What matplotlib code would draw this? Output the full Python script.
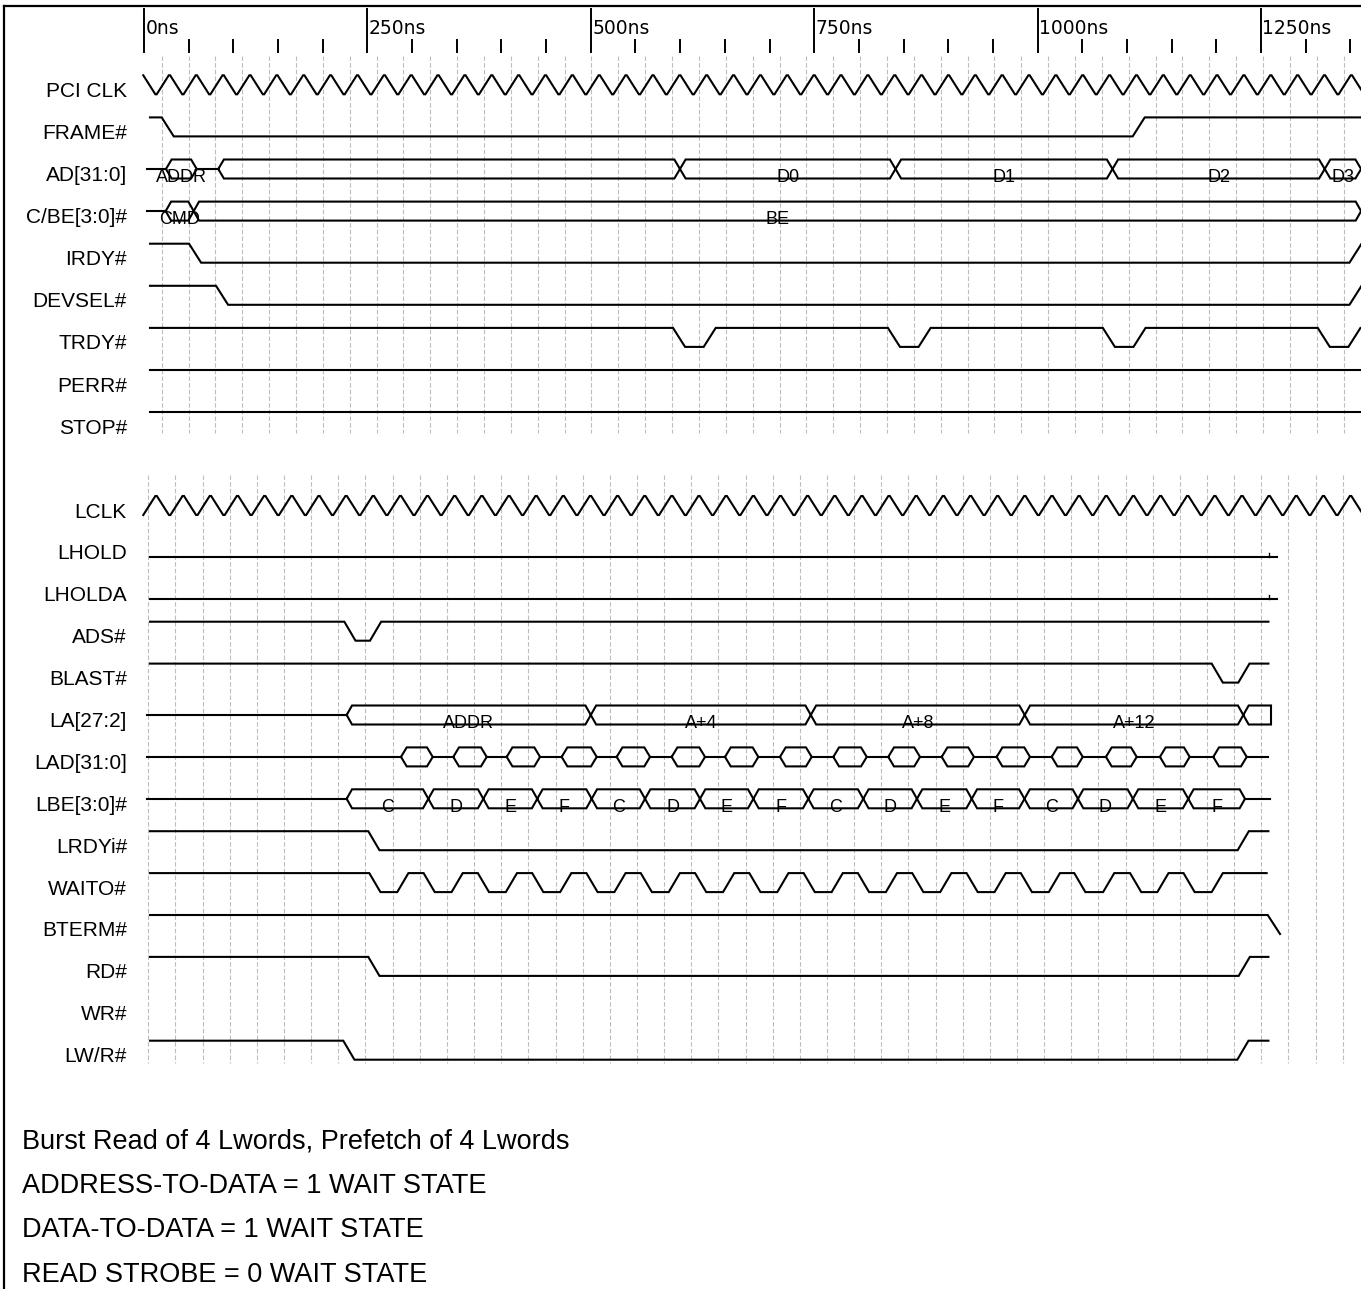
"""
PCI -> Local bus burst read timing diagram
"""
import matplotlib.pyplot as plt

plt.rcParams['font.family'] = ['Liberation Sans', 'DejaVu Sans']

# signal names
pci_names = ['PCI CLK', 'FRAME#', 'AD[31:0]', 'C/BE[3:0]#', 'IRDY#',
             'DEVSEL#', 'TRDY#', 'PERR#', 'STOP#']
local_names = ['LCLK', 'LHOLD', 'LHOLDA', 'ADS#', 'BLAST#', 'LA[27:2]',
               'LAD[31:0]', 'LBE[3:0]#', 'LRDYi#', 'WAITO#', 'BTERM#',
               'RD#', 'WR#', 'LW/R#']

# time axis (ns)
major_ticks = [0, 250, 500, 750, 1000, 1250]
minor_ticks = [50, 100, 150, 200, 300, 350, 400, 450, 550, 600, 650, 700,
               800, 850, 900, 950, 1050, 1100, 1150, 1200, 1300, 1350]

# clocks
pci_clk_period = 30.06
pci_clk_first = -0.8      # first falling edge starts here (from high)
lclk_period = 30.38
lclk_first = -0.8         # first rising edge starts here (from low)

# PCI side, transition start times (ns); every edge toggles the level
frame_edges = [19.8, 1106.4]
irdy_edges = [50.4, 1349.0]
devsel_edges = [80.6, 1349.0]
trdy_edges = [592.0, 626.3, 832.5, 866.8, 1073.0, 1107.3, 1313.5, 1347.8]

# PCI buses: segment start / end (crossing points, ns) and labels
ad_starts = [24.6, 83.1, 599.8, 841.0, 1083.8, 1321.3]
ad_ends = [59.0, 599.8, 841.0, 1083.8, 1321.3, 1362.0]
ad_labels = ['ADDR', '', 'D0', 'D1', 'D2', 'D3']

cbe_starts = [24.3, 55.6]
cbe_ends = [55.6, 1362.0]
cbe_labels = ['CMD', 'BE']

# local side
ads_edges = [224.2, 252.9]
blast_edges = [1194.8, 1224.6]
lrdy_edges = [251.0, 1223.9]
waito_edges = [252.1, 283.4, 312.9, 344.2, 373.6, 404.9, 434.4, 465.7,
               495.1, 526.4, 555.9, 587.2, 616.7, 648.0, 677.4, 708.7,
               738.2, 769.5, 798.9, 830.2, 859.7, 891.0, 920.5, 951.8,
               981.2, 1012.5, 1041.0, 1073.3, 1103.5, 1134.0, 1163.3, 1194.8]
bterm_edges = [1257.5]
rd_edges = [251.0, 1225.0]
lwr_edges = [223.0, 1223.5]
lhold_tick = 1259.3

la_starts = [226.8, 500.0, 746.2, 985.6, 1230.2]
la_ends = [500.0, 746.2, 985.6, 1230.2, 1261.2]
la_labels = ['ADDR', 'A+4', 'A+8', 'A+12', '']

lad_starts = [287.6, 346.1, 405.9, 467.4, 529.0, 590.5, 650.2, 711.7,
              771.4, 832.9, 892.7, 954.2, 1015.8, 1076.5, 1136.9, 1196.6]
lad_ends = [323.1, 383.5, 443.2, 506.6, 566.3, 627.8, 687.5, 747.2,
            808.8, 868.4, 928.8, 991.5, 1050.5, 1110.9, 1170.2, 1234.0]

lbe_starts = [226.8, 318.2, 379.7, 440.1, 501.0, 560.7, 622.2, 681.9,
              743.4, 804.9, 865.0, 926.3, 985.3, 1045.2, 1106.7, 1168.6]
lbe_ends = lbe_starts[1:] + [1232.1]
lbe_labels = ['C', 'D', 'E', 'F'] * 4

notes = ['Burst Read of 4 Lwords, Prefetch of 4 Lwords',
         'ADDRESS-TO-DATA = 1 WAIT STATE',
         'DATA-TO-DATA = 1 WAIT STATE',
         'READ STROBE = 0 WAIT STATE']

# ---------------- layout ----------------
PX_PER_NS = 0.8936
X0 = 144.0                       # pixel of 0 ns
W, H = 1361, 1289
SWING = 19.0
SIG = dict(color='black', lw=1.5, solid_joinstyle='miter', zorder=3)
GRID = dict(color='#bdbdbd', lw=0.8, linestyle=(0, (4, 2)), zorder=1)

fig = plt.figure(figsize=(W / 100, H / 100), dpi=100)
ax = fig.add_axes([0, 0, 1, 1])
ax.set_xlim(-X0 / PX_PER_NS, (W - X0) / PX_PER_NS)
ax.set_ylim(H, 0)
ax.axis('off')
xmax = (W - X0) / PX_PER_NS


def ns(px):
    return (px - X0) / PX_PER_NS


def lvl_y(low, high):
    return low - SWING if high else low


def digital(low, t0, t1, edges, tr, high=True):
    xs, ys = [t0], [lvl_y(low, high)]
    for e in edges:
        xs.append(e)
        ys.append(lvl_y(low, high))
        high = not high
        xs.append(e + tr)
        ys.append(lvl_y(low, high))
    if t1 > xs[-1]:
        xs.append(t1)
        ys.append(lvl_y(low, high))
    ax.plot(xs, ys, **SIG)


def clock(low, t0, period, high, tr, t1):
    xs, ys = [], []
    t = t0
    while t < t1 + period:
        xs += [t, t + tr]
        ys += [lvl_y(low, high), lvl_y(low, not high)]
        high = not high
        t += period / 2
    ax.plot(xs, ys, **SIG)


def bus(low, t0, t1, starts, ends, labels, h, square_last=False):
    top, mid = low - SWING, low - SWING / 2
    prev = t0
    n = len(starts)
    for i, (s, e) in enumerate(zip(starts, ends)):
        if s > prev:
            ax.plot([prev, s], [mid, mid], **SIG)
        if square_last and i == n - 1:
            px = [s, s + h, e, e, s + h, s]
            py = [mid, top, top, low, low, mid]
        else:
            px = [s, s + h, e - h, e, e - h, s + h, s]
            py = [mid, top, top, mid, low, low, mid]
        ax.plot(px, py, **SIG)
        if labels and labels[i]:
            ax.text((s + e) / 2, low - 1, labels[i], ha='center', va='center',
                    fontsize=13)
        prev = e
    if t1 is not None and t1 > prev:
        ax.plot([prev, t1], [mid, mid], **SIG)


# frame
ax.plot([ns(4), ns(4)], [6, H], color='black', lw=1.6)
ax.plot([ns(4), xmax], [6, 6], color='black', lw=1.6)

# time scale
for t in major_ticks:
    ax.plot([t, t], [9, 52], color='black', lw=1.4)
    ax.text(t + 1.5, 28, f'{t}ns', ha='left', va='center', fontsize=13.5,
            family='DejaVu Sans')
for t in minor_ticks:
    ax.plot([t, t], [40, 52], color='black', lw=1.4)

# grid lines
k = 0
while 19.8 + k * pci_clk_period < xmax - 15:
    t = 19.8 + k * pci_clk_period
    ax.plot([t, t], [56, 433], **GRID)
    k += 1
k = 0
while 4.8 + k * lclk_period < xmax - 15:
    t = 4.8 + k * lclk_period
    ax.plot([t, t], [475, 1063], **GRID)
    k += 1

# rows
pci_low = [94.3 + 42.1 * i for i in range(len(pci_names))]
loc_low = [515.0 + 41.9 * i for i in range(len(local_names))]
for name, low in zip(pci_names + local_names, pci_low + loc_low):
    ax.text(ns(127), low - 3, name, ha='right', va='center', fontsize=15)

TU, TL = 13.5, 12.5
start_d, start_b = ns(150), ns(146.7)
local_end = 1258.3

# PCI side
clock(pci_low[0], pci_clk_first, pci_clk_period, True, 13.5, xmax)
digital(pci_low[1], start_d, xmax, frame_edges, TU)
bus(pci_low[2], start_b, None, ad_starts, ad_ends, ad_labels, 6.3)
bus(pci_low[3], start_b, None, cbe_starts, cbe_ends, cbe_labels, 6.0)
digital(pci_low[4], start_d, xmax, irdy_edges, TU)
digital(pci_low[5], start_d, xmax, devsel_edges, TU)
digital(pci_low[6], start_d, xmax, trdy_edges, TU)
digital(pci_low[7], start_d, xmax, [], TU)
digital(pci_low[8], start_d, xmax, [], TU)

# local side
clock(loc_low[0], lclk_first, lclk_period, False, 13.5, xmax)
for low in (loc_low[1], loc_low[2]):
    digital(low, start_d, 1267.6, [], TL, high=False)
    ax.plot([lhold_tick, lhold_tick], [low, low - 4], color='black', lw=1.0,
            zorder=3)
digital(loc_low[3], start_d, local_end, ads_edges, TL)
digital(loc_low[4], start_d, local_end, blast_edges, TL)
bus(loc_low[5], start_b, None, la_starts, la_ends, la_labels, 6.0,
    square_last=True)
bus(loc_low[6], start_b, 1258.2, lad_starts, lad_ends, None, 6.4)
bus(loc_low[7], start_b, 1260.1, lbe_starts, lbe_ends, lbe_labels, 6.0)
digital(loc_low[8], start_d, local_end, lrdy_edges, TL)
digital(loc_low[9], start_d, 1256.3, waito_edges, TL)
digital(loc_low[10], start_d, 1257.5, bterm_edges, 13.8)
digital(loc_low[11], start_d, local_end, rd_edges, TL)
digital(loc_low[13], start_d, local_end, lwr_edges, TL)

# notes
for i, line in enumerate(notes):
    ax.text(ns(22), 1141 + 44.7 * i, line, ha='left', va='center',
            fontsize=19.5)

fig.savefig('out.png', dpi=100)
